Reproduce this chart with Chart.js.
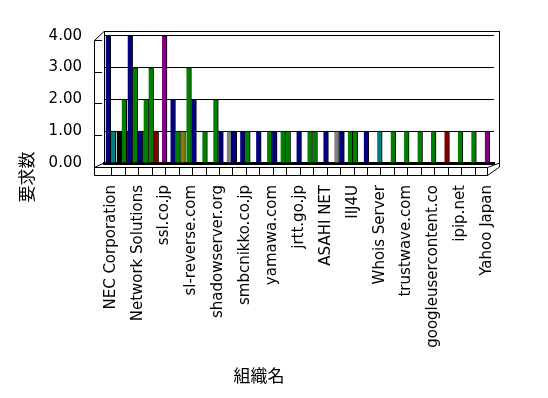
<!DOCTYPE html>
<html>
<head>
<meta charset="utf-8">
<script src="https://cdn.jsdelivr.net/npm/chart.js@4/dist/chart.umd.min.js"></script>
<style>
  body { margin: 0; background: #fff; }
  canvas { display: block; }
</style>
</head>
<body>
<canvas id="orgChart" width="548" height="398"></canvas>
<script>
// 29 organisations, only every other name is printed in the original
const categories = [
  'NEC Corporation', '', 'Network Solutions', '', 'ssl.co.jp', '',
  'sl-reverse.com', '', 'shadowserver.org', '', 'smbcnikko.co.jp', '',
  'yamawa.com', '', 'jrtt.go.jp', '', 'ASAHI NET', '', 'IIJ4U', '',
  'Whois Server', '', 'trustwave.com', '', 'googleusercontent.co', '',
  'ipip.net', '', 'Yahoo Japan'
];

const yTicks = [0, 1, 2, 3, 4];

// series values per organisation (null = no bar)
const navy   = [4, null, 4, null, null, 2, null, null, null, null, 1, 1, null, null, 1, null, 1, null, null, 1, null, null, null, null, null, null, null, null, null];
const teal   = [1, null, null, null, null, null, null, null, null, null, null, null, null, null, null, null, null, null, null, null, 1, null, null, null, null, null, null, null, null];
const black  = [null, 1, null, null, null, null, null, null, null, null, null, null, null, null, null, null, null, null, null, null, null, null, null, null, null, null, null, null, null];
const green  = [null, 2, 3, 2, null, 1, 3, 1, 2, null, 1, null, 1, 1, null, 1, null, null, 1, null, null, 1, 1, 1, 1, null, 1, 1, null];
const gray   = [null, null, null, null, null, null, null, null, null, 1, null, null, null, null, null, null, null, 1, null, null, null, null, null, null, null, null, null, null, null];
const navy2  = [null, null, 1, null, null, null, 2, null, 1, 1, null, null, 1, null, null, null, null, 1, null, null, null, null, null, null, null, null, null, null, null];
const green2 = [null, null, 1, 3, null, null, null, null, null, null, null, null, null, 1, null, 1, null, null, 1, null, null, null, null, null, null, null, null, null, null];
const maroon = [null, 1, null, 1, null, null, null, null, null, null, null, null, null, null, null, null, null, null, null, null, null, null, null, null, null, 1, null, null, null];
const purple = [null, null, null, null, 4, null, null, null, null, null, null, null, null, null, null, null, null, null, null, null, null, null, null, null, null, null, null, null, 1];
const olive  = [null, null, null, null, null, 1, null, null, null, null, null, null, null, null, null, null, null, null, null, null, null, null, null, null, null, null, null, null, null];

const xTitle = '組織名';
const yTitle = '要求数';

function series(label, data, color) {
  return {
    label: label,
    data: data,
    backgroundColor: color,
    borderColor: '#000',
    borderWidth: { top: 1, right: 1, left: 0, bottom: 0 },
    borderSkipped: 'bottom',
    barThickness: 5,
    skipNull: true
  };
}

// draws the box around the plot so it looks like the excel 3d frame
const frame3d = {
  id: 'frame3d',
  afterDraw(chart) {
    const { ctx, chartArea, scales } = chart;
    const { left, right, top, bottom } = chartArea;
    const step = (right - left) / categories.length;
    ctx.save();
    ctx.strokeStyle = '#000';
    ctx.lineWidth = 1;
    ctx.beginPath();
    // back wall top + right side
    ctx.moveTo(left, top + 0.5);
    ctx.lineTo(right + 5, top + 0.5);
    ctx.moveTo(right + 5.5, top);
    ctx.lineTo(right + 5.5, bottom + 1);
    // left wall
    ctx.moveTo(left, top + 0.5);
    ctx.lineTo(left - 9.5, top + 9.5);
    ctx.lineTo(left - 9.5, bottom + 12.5);
    ctx.moveTo(left - 9.5, bottom + 4.5);
    ctx.lineTo(left, bottom);
    yTicks.forEach(v => {
      const py = Math.round(scales.y.getPixelForValue(v)) + 4.5;
      ctx.moveTo(left - 9, py);
      ctx.lineTo(left - 2, py);
    });
    // floor slab
    ctx.moveTo(left - 9.5, bottom + 4.5);
    ctx.lineTo(right - 6.5, bottom + 4.5);
    ctx.lineTo(right + 5.5, bottom);
    ctx.moveTo(left - 9.5, bottom + 12.5);
    ctx.lineTo(right - 6.5, bottom + 12.5);
    ctx.lineTo(right + 5.5, bottom + 4);
    ctx.lineTo(right + 5.5, bottom);
    ctx.moveTo(right - 6.5, bottom + 4.5);
    ctx.lineTo(right - 6.5, bottom + 12.5);
    for (let i = 1; i < categories.length; i++) {
      const px = Math.round(left + step * i - 6) + 0.5;
      ctx.moveTo(px, bottom + 4.5);
      ctx.lineTo(px, bottom + 12.5);
    }
    ctx.stroke();

    // axis titles
    ctx.fillStyle = '#000';
    ctx.font = '17px "Noto Sans CJK JP"';
    ctx.textAlign = 'center';
    ctx.textBaseline = 'middle';
    ctx.fillText(xTitle, 259, 376);
    ctx.translate(27, 177);
    ctx.rotate(-Math.PI / 2);
    ctx.fillText(yTitle, 0, 0);
    ctx.restore();
  }
};

Chart.defaults.font.family = '"DejaVu Sans", sans-serif';
Chart.defaults.font.size = 15;
Chart.defaults.color = '#000';

const ctx = document.getElementById('orgChart').getContext('2d');
const orgChart = new Chart(ctx, {
  type: 'bar',
  data: {
    labels: categories,
    datasets: [
      series('navy', navy, '#000080'),
      series('teal', teal, '#008080'),
      series('black', black, '#000000'),
      series('green', green, '#008000'),
      series('gray', gray, '#808080'),
      series('navy2', navy2, '#000080'),
      series('green2', green2, '#008000'),
      series('maroon', maroon, '#800000'),
      series('purple', purple, '#800080'),
      series('olive', olive, '#808000')
    ]
  },
  options: {
    responsive: false,
    animation: false,
    layout: { padding: { top: 31, right: 54, left: 0, bottom: 0 } },
    plugins: {
      legend: { display: false },
      tooltip: { enabled: false }
    },
    scales: {
      x: {
        grid: { display: false, drawTicks: false },
        border: { display: true, color: '#000', width: 3 },
        ticks: { autoSkip: false, minRotation: 90, maxRotation: 90, padding: 22 },
        afterFit: scale => { scale.height = 235; }
      },
      y: {
        min: 0,
        max: 4.15,
        afterBuildTicks: scale => { scale.ticks = yTicks.map(v => ({ value: v })); },
        grid: { color: '#000', drawTicks: false },
        border: { display: true, color: '#000', width: 1 },
        ticks: { padding: 22, callback: v => v.toFixed(2) },
        afterFit: scale => { scale.width = 104; }
      }
    }
  },
  plugins: [frame3d]
});
</script>
</body>
</html>
